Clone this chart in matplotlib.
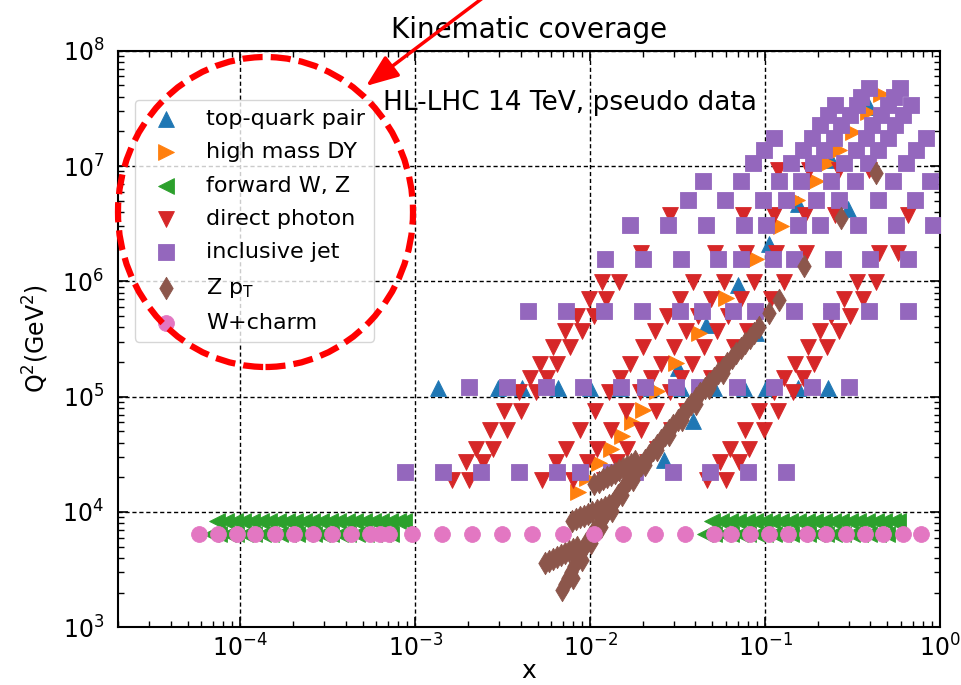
import matplotlib
matplotlib.use("Agg")
import matplotlib.pyplot as plt
from matplotlib.patches import Ellipse, FancyArrowPatch

# ---------------------------------------------------------------
# Kinematic coverage (x, Q^2) of HL-LHC pseudo data sets

# top-quark pair: one row near (2 m_t)^2 plus a diagonal
top_row_x = [1.35e-3, 2.98e-3, 4.09e-3, 6.58e-3, 1.00e-2, 1.49e-2, 2.22e-2,
             3.29e-2, 5.09e-2, 7.56e-2, 0.101, 0.154, 0.229]
TOP_ROW_Q2 = 1.2e5
top_diag_x = [2.63e-2, 3.86e-2, 3.16e-2, 4.58e-2, 6.98e-2, 8.86e-2, 0.105,
              0.154, 0.238, 0.298, 0.393]
top_diag_q2 = [2.82e4, 6.14e4, 1.77e5, 4.18e5, 9.29e5, 3.56e5, 2.11e6,
               4.68e6, 1.13e7, 4.24e6, 3.25e7]

# high mass Drell-Yan
dy_x = [8.57e-3, 9.65e-3, 1.116e-2, 1.307e-2, 1.511e-2, 1.725e-2, 1.994e-2,
        2.399e-2, 3.083e-2, 4.174e-2, 5.96e-2, 8.86e-2, 0.1232, 0.1513,
        0.1955, 0.2291, 0.2648, 0.3186, 0.3883, 0.4609]
dy_q2 = [1.49e4, 1.97e4, 2.66e4, 3.51e4, 4.55e4, 6.02e4, 7.65e4, 1.118e5,
         1.956e5, 3.56e5, 7.16e5, 1.561e6, 3.02e6, 5.07e6, 7.41e6, 1.062e7,
         1.377e7, 1.971e7, 2.94e7, 4.21e7]

# forward W, Z (two dense rows at M_Z^2 and M_W^2)
FWD_Z_Q2 = 8.3e3
FWD_W_Q2 = 6.5e3
fwd_z_x = [7.4e-5, 8.3e-5, 9.3e-5, 1.04e-4, 1.17e-4, 1.31e-4, 1.46e-4, 1.64e-4,
           1.84e-4, 2.06e-4, 2.30e-4, 2.58e-4, 2.89e-4, 3.24e-4, 3.62e-4,
           4.06e-4, 4.54e-4, 5.09e-4, 5.70e-4, 6.38e-4, 7.15e-4, 8.0e-4, 8.6e-4,
           0.050, 0.056, 0.0627, 0.0702, 0.0786, 0.088, 0.0985, 0.110, 0.123,
           0.138, 0.155, 0.173, 0.194, 0.217, 0.243, 0.272, 0.305, 0.341,
           0.382, 0.428, 0.479, 0.536, 0.573]
fwd_w_x = [6.8e-5, 7.6e-5, 8.5e-5, 9.5e-5, 1.07e-4, 1.19e-4, 1.34e-4, 1.50e-4,
           1.68e-4, 1.88e-4, 2.10e-4, 2.35e-4, 2.64e-4, 2.95e-4, 3.31e-4,
           3.70e-4, 4.15e-4, 4.65e-4, 5.20e-4, 5.83e-4, 6.53e-4, 7.31e-4,
           0.0455, 0.051, 0.0571, 0.0639, 0.0716, 0.0802, 0.0898, 0.1005,
           0.1126, 0.126, 0.141, 0.158, 0.177, 0.198, 0.222, 0.249, 0.279,
           0.312, 0.350, 0.392, 0.439, 0.4956]

# direct photon: E_T rows, and the x of each rapidity stripe
gam_q2 = [1.89e4, 2.71e4, 3.51e4, 5.13e4, 7.50e4, 1.096e5, 1.45e5, 1.917e5,
          2.693e5, 3.706e5, 5.0e5, 7.02e5, 9.86e5, 1.76e6, 3.76e6, 9.23e6]
gam_x_l1 = [1.625e-3, 1.946e-3, 2.215e-3, 2.677e-3, 3.237e-3, 3.913e-3,
            4.501e-3, 5.176e-3, 6.134e-3, 7.196e-3, 8.357e-3, 9.904e-3, 1.174e-2]
gam_x_l2 = [2.033e-3, 2.435e-3, 2.771e-3, 3.349e-3, 4.050e-3, 4.895e-3,
            5.631e-3, 6.475e-3, 7.675e-3, 9.002e-3, 1.046e-2, 1.239e-2,
            1.468e-2, 1.962e-2, 2.867e-2]
gam_x_m1 = [5.33e-3, 6.383e-3, 7.264e-3, 8.781e-3, 1.062e-2, 1.283e-2,
            1.476e-2, 1.698e-2, 2.012e-2, 2.360e-2, 2.741e-2, 3.249e-2,
            3.850e-2, 5.143e-2, 7.515e-2, 0.1178]
gam_x_m2 = [8.02e-3, 9.604e-3, 1.093e-2, 1.321e-2, 1.598e-2, 1.931e-2,
            2.222e-2, 2.554e-2, 3.028e-2, 3.551e-2, 4.125e-2, 4.888e-2,
            5.793e-2, 7.739e-2, 0.1131, 0.1772]
gam_x_m3 = [1.192e-2, 1.427e-2, 1.624e-2, 1.964e-2, 2.375e-2, 2.870e-2,
            3.302e-2, 3.797e-2, 4.500e-2, 5.278e-2, 6.130e-2, 7.265e-2,
            8.610e-2, 0.1150, 0.1681, 0.2634]
gam_x_m4 = [1.770e-2, 2.120e-2, 2.412e-2, 2.916e-2, 3.526e-2, 4.262e-2,
            4.903e-2, 5.637e-2, 6.682e-2, 7.838e-2, 9.103e-2, 0.1079, 0.1278,
            0.1708, 0.2496, 0.3912]
gam_x_r1 = [4.64e-2, 5.556e-2, 6.323e-2, 7.644e-2, 9.243e-2, 0.1117, 0.1285,
            0.1478, 0.1752, 0.2055, 0.2386, 0.2828, 0.3351, 0.4478, 0.6542]
gam_x_r2 = [5.96e-2, 7.137e-2, 8.122e-2, 9.819e-2, 0.1187, 0.1435, 0.1651,
            0.1898, 0.2250, 0.2639, 0.3065, 0.3633, 0.4305, 0.5751]

# inclusive jet: p_T rows and their x values
jet_q2 = [2.23e4, 1.22e5, 5.56e5, 1.56e6, 3.05e6, 5.07e6, 7.48e6, 1.06e7,
          1.37e7, 1.75e7, 2.27e7, 2.77e7, 3.38e7, 3.97e7, 4.75e7]
jet_x = [
    [8.74e-4, 1.443e-3, 2.382e-3, 3.934e-3, 6.494e-3, 8.80e-3, 1.307e-2,
     1.794e-2, 2.962e-2, 4.828e-2, 7.97e-2, 0.1316],
    [2.033e-3, 3.358e-3, 5.62e-3, 9.15e-3, 1.492e-2, 2.048e-2, 3.083e-2,
     4.174e-2, 6.89e-2, 0.1123, 0.1854, 0.3021],
    [4.43e-3, 7.31e-3, 1.192e-2, 1.968e-2, 3.249e-2, 4.343e-2, 6.54e-2,
     8.74e-2, 0.1462, 0.2383, 0.3934, 0.6582],
    [1.208e-2, 1.994e-2, 3.292e-2, 5.36e-2, 7.265e-2, 0.1108, 0.1462, 0.2446,
     0.3986, 0.6582],
    [1.680e-2, 2.773e-2, 4.577e-2, 7.56e-2, 0.1011, 0.1542, 0.2061, 0.3402,
     0.5617, 0.9155],
    [3.61e-2, 5.88e-2, 9.71e-2, 0.1316, 0.1955, 0.2648, 0.4430, 0.7219],
    [4.40e-2, 7.265e-2, 0.1200, 0.1604, 0.2383, 0.3270, 0.5401, 0.880],
    [8.51e-2, 0.1405, 0.1879, 0.2828, 0.3883, 0.6411],
    [9.84e-2, 0.1646, 0.2173, 0.3314, 0.4430, 0.7314],
    [0.1123, 0.1854, 0.2479, 0.3782, 0.5055, 0.8345],
    [0.2061, 0.2719, 0.4093, 0.5544],
    [0.2290, 0.3062, 0.4609, 0.6163],
    [0.2512, 0.3358, 0.5055, 0.6847],
    [0.3540, 0.5473],
    [0.3934, 0.5923],
]

# Z p_T: dense main band, three low-Q2 arms and a few isolated points
zpt_main_x = [6.94e-3, 7.22e-3, 7.51e-3, 7.81e-3, 8.13e-3, 8.46e-3, 8.80e-3,
              9.15e-3, 9.52e-3, 9.97e-3, 1.044e-2, 1.094e-2, 1.146e-2,
              1.200e-2, 1.256e-2, 1.316e-2, 1.378e-2, 1.443e-2, 1.511e-2,
              1.583e-2, 1.658e-2, 1.748e-2, 1.842e-2, 1.942e-2, 2.048e-2,
              2.159e-2, 2.275e-2, 2.398e-2, 2.528e-2, 2.665e-2, 2.810e-2,
              2.982e-2, 3.164e-2, 3.358e-2, 3.563e-2, 3.781e-2, 4.013e-2,
              4.259e-2, 4.519e-2, 4.795e-2, 5.088e-2, 5.40e-2, 5.73e-2,
              6.08e-2, 6.45e-2, 6.85e-2, 7.265e-2, 7.71e-2, 8.18e-2, 8.68e-2,
              9.21e-2, 0.1051, 0.1200, 0.1669, 0.2719, 0.4315]
zpt_main_q2 = [2.10e3, 2.37e3, 2.67e3, 3.01e3, 3.40e3, 3.83e3, 4.31e3,
               4.82e3, 5.38e3, 6.00e3, 6.69e3, 7.47e3, 8.34e3, 9.21e3,
               1.018e4, 1.137e4, 1.269e4, 1.402e4, 1.548e4, 1.711e4,
               1.891e4, 2.090e4, 2.309e4, 2.551e4, 2.819e4, 3.115e4,
               3.443e4, 3.805e4, 4.204e4, 4.645e4, 5.132e4, 5.672e4,
               6.268e4, 6.997e4, 7.81e4, 8.71e4, 9.72e4, 1.074e5, 1.187e5,
               1.312e5, 1.450e5, 1.602e5, 1.771e5, 1.957e5, 2.162e5,
               2.389e5, 2.640e5, 2.917e5, 3.224e5, 3.598e5, 4.015e5,
               5.31e5, 6.88e5, 1.357e6, 3.54e6, 8.70e6]
# points just right of the main band (its jagged right edge)
zpt_side_x = [7.96e-3, 8.97e-3, 1.009e-2, 1.160e-2, 1.331e-2, 1.530e-2,
              1.757e-2, 2.059e-2, 2.412e-2, 2.825e-2, 3.354e-2, 4.008e-2,
              4.790e-2, 5.72e-2]
zpt_side_q2 = [2.67e3, 3.83e3, 5.38e3, 7.47e3, 1.018e4, 1.402e4, 1.891e4,
               2.551e4, 3.443e4, 4.645e4, 6.268e4, 8.71e4, 1.187e5, 1.602e5]
zpt_arm_x = [5.54e-3, 5.84e-3, 6.16e-3, 6.50e-3, 6.85e-3, 7.22e-3, 7.61e-3,
             8.02e-3, 8.46e-3,
             7.92e-3, 8.35e-3, 8.80e-3, 9.28e-3, 9.78e-3, 1.031e-2, 1.087e-2,
             1.146e-2, 1.208e-2, 1.273e-2, 1.342e-2,
             1.058e-2, 1.117e-2, 1.178e-2, 1.241e-2, 1.307e-2, 1.379e-2,
             1.455e-2, 1.534e-2, 1.616e-2, 1.703e-2, 1.794e-2]
zpt_arm_q2 = [3.61e3, 3.75e3, 3.90e3, 4.06e3, 4.23e3, 4.40e3, 4.58e3,
              4.77e3, 4.96e3,
              8.34e3, 8.68e3, 9.03e3, 9.31e3, 9.59e3, 9.98e3, 1.039e4,
              1.070e4, 1.103e4, 1.148e4, 1.195e4,
              1.746e4, 1.835e4, 1.929e4, 2.008e4, 2.089e4, 2.196e4,
              2.309e4, 2.403e4, 2.501e4, 2.629e4, 2.763e4]

# W + charm
WC_Q2 = 6.5e3
wc_x = [5.77e-5, 7.41e-5, 9.53e-5, 1.22e-4, 1.57e-4, 2.02e-4, 2.60e-4,
        3.33e-4, 4.28e-4, 5.50e-4, 6.28e-4, 7.08e-4, 9.58e-4, 1.42e-3,
        2.12e-3, 3.15e-3, 4.67e-3, 7.03e-3, 1.05e-2, 1.55e-2, 2.34e-2,
        3.47e-2, 5.09e-2, 6.37e-2, 8.19e-2, 0.105, 0.135, 0.174, 0.223,
        0.291, 0.373, 0.473, 0.617, 0.782]

C_TOP = "#1f77b4"
C_DY = "#ff7f0e"
C_FWD = "#2ca02c"
C_GAM = "#d62728"
C_JET = "#9467bd"
C_ZPT = "#8c564b"
C_WC = "#e377c2"
MS = 130


def dots(ax, xs, qs, marker, color, label):
    ax.scatter(xs, qs, s=MS, marker=marker, color=color, edgecolors=color,
               linewidths=0.6, label=label, zorder=3)


if __name__ == '__main__':

    fig = plt.figure(figsize=(9.61, 6.85), dpi=100)
    ax = fig.add_axes([0.1228, 0.0842, 0.8554, 0.8418])
    ax.set_xscale("log"); ax.set_yscale("log")

    tx = top_row_x + top_diag_x
    tq = [TOP_ROW_Q2] * len(top_row_x) + top_diag_q2
    dots(ax, tx, tq, "^", C_TOP, "top-quark pair")

    dots(ax, dy_x, dy_q2, ">", C_DY, "high mass DY")

    fx = fwd_z_x + fwd_w_x
    fq = [FWD_Z_Q2] * len(fwd_z_x) + [FWD_W_Q2] * len(fwd_w_x)
    dots(ax, fx, fq, "<", C_FWD, "forward W, Z")

    gx = []; gq = []
    for stripe in (gam_x_l1, gam_x_l2, gam_x_m1, gam_x_m2, gam_x_m3,
                   gam_x_m4, gam_x_r1, gam_x_r2):
        gx += stripe
        gq += gam_q2[:len(stripe)]
    dots(ax, gx, gq, "v", C_GAM, "direct photon")

    jx = []; jq = []
    for q2, row in zip(jet_q2, jet_x):
        jx += row
        jq += [q2] * len(row)
    dots(ax, jx, jq, "s", C_JET, "inclusive jet")

    dots(ax, zpt_main_x + zpt_side_x + zpt_arm_x,
         zpt_main_q2 + zpt_side_q2 + zpt_arm_q2, "d", C_ZPT,
         r"Z p$_\mathrm{T}$")

    dots(ax, wc_x, [WC_Q2] * len(wc_x), "o", C_WC, "W+charm")

    ax.set_xlim(2e-5, 1.0)
    ax.set_ylim(1e3, 1e8)
    ax.grid(True, which="major", color="k", linestyle=(0, (3, 2)), lw=1.0)
    ax.set_axisbelow(True)
    ax.tick_params(which="both", direction="in", top=True, right=True,
                   labelsize=17)
    ax.tick_params(which="major", length=7, width=1.2)
    ax.tick_params(which="minor", length=4, width=1.0)
    ax.tick_params(axis="y", pad=10)
    ax.tick_params(axis="x", pad=5)
    for sp in ax.spines.values():
        sp.set_linewidth(1.5)

    ax.set_xlabel("x", fontsize=18, labelpad=-2)
    ax.set_ylabel(r"Q$^2$(GeV$^2$)", fontsize=17, labelpad=8)
    ax.set_title("Kinematic coverage", fontsize=20, pad=9)
    ax.text(0.3224, 0.909, "HL-LHC 14 TeV, pseudo data", transform=ax.transAxes,
            fontsize=19, ha="left", va="center")

    ax.legend(loc="upper left", bbox_to_anchor=(0.0207, 0.9145),
              borderaxespad=0, fontsize=16, scatterpoints=1, labelspacing=0.6)

    # red annotation drawn over the figure
    ell = Ellipse((265.5 / 961, 1 - 212 / 685), 295 / 961, 310 / 685,
                  transform=fig.transFigure, fill=False, edgecolor="red",
                  lw=4.5, linestyle=(0, (3.2, 1.3)), zorder=20)
    fig.add_artist(ell)
    arr = FancyArrowPatch((484 / 961, 1 + 3 / 685), (366 / 961, 1 - 86 / 685),
                          transform=fig.transFigure, color="red", lw=2.5,
                          arrowstyle="-|>,head_length=0.9,head_width=0.35",
                          mutation_scale=22, shrinkA=0, shrinkB=0, zorder=20)
    fig.add_artist(arr)

    fig.savefig("out.png", dpi=100)

# EOF
